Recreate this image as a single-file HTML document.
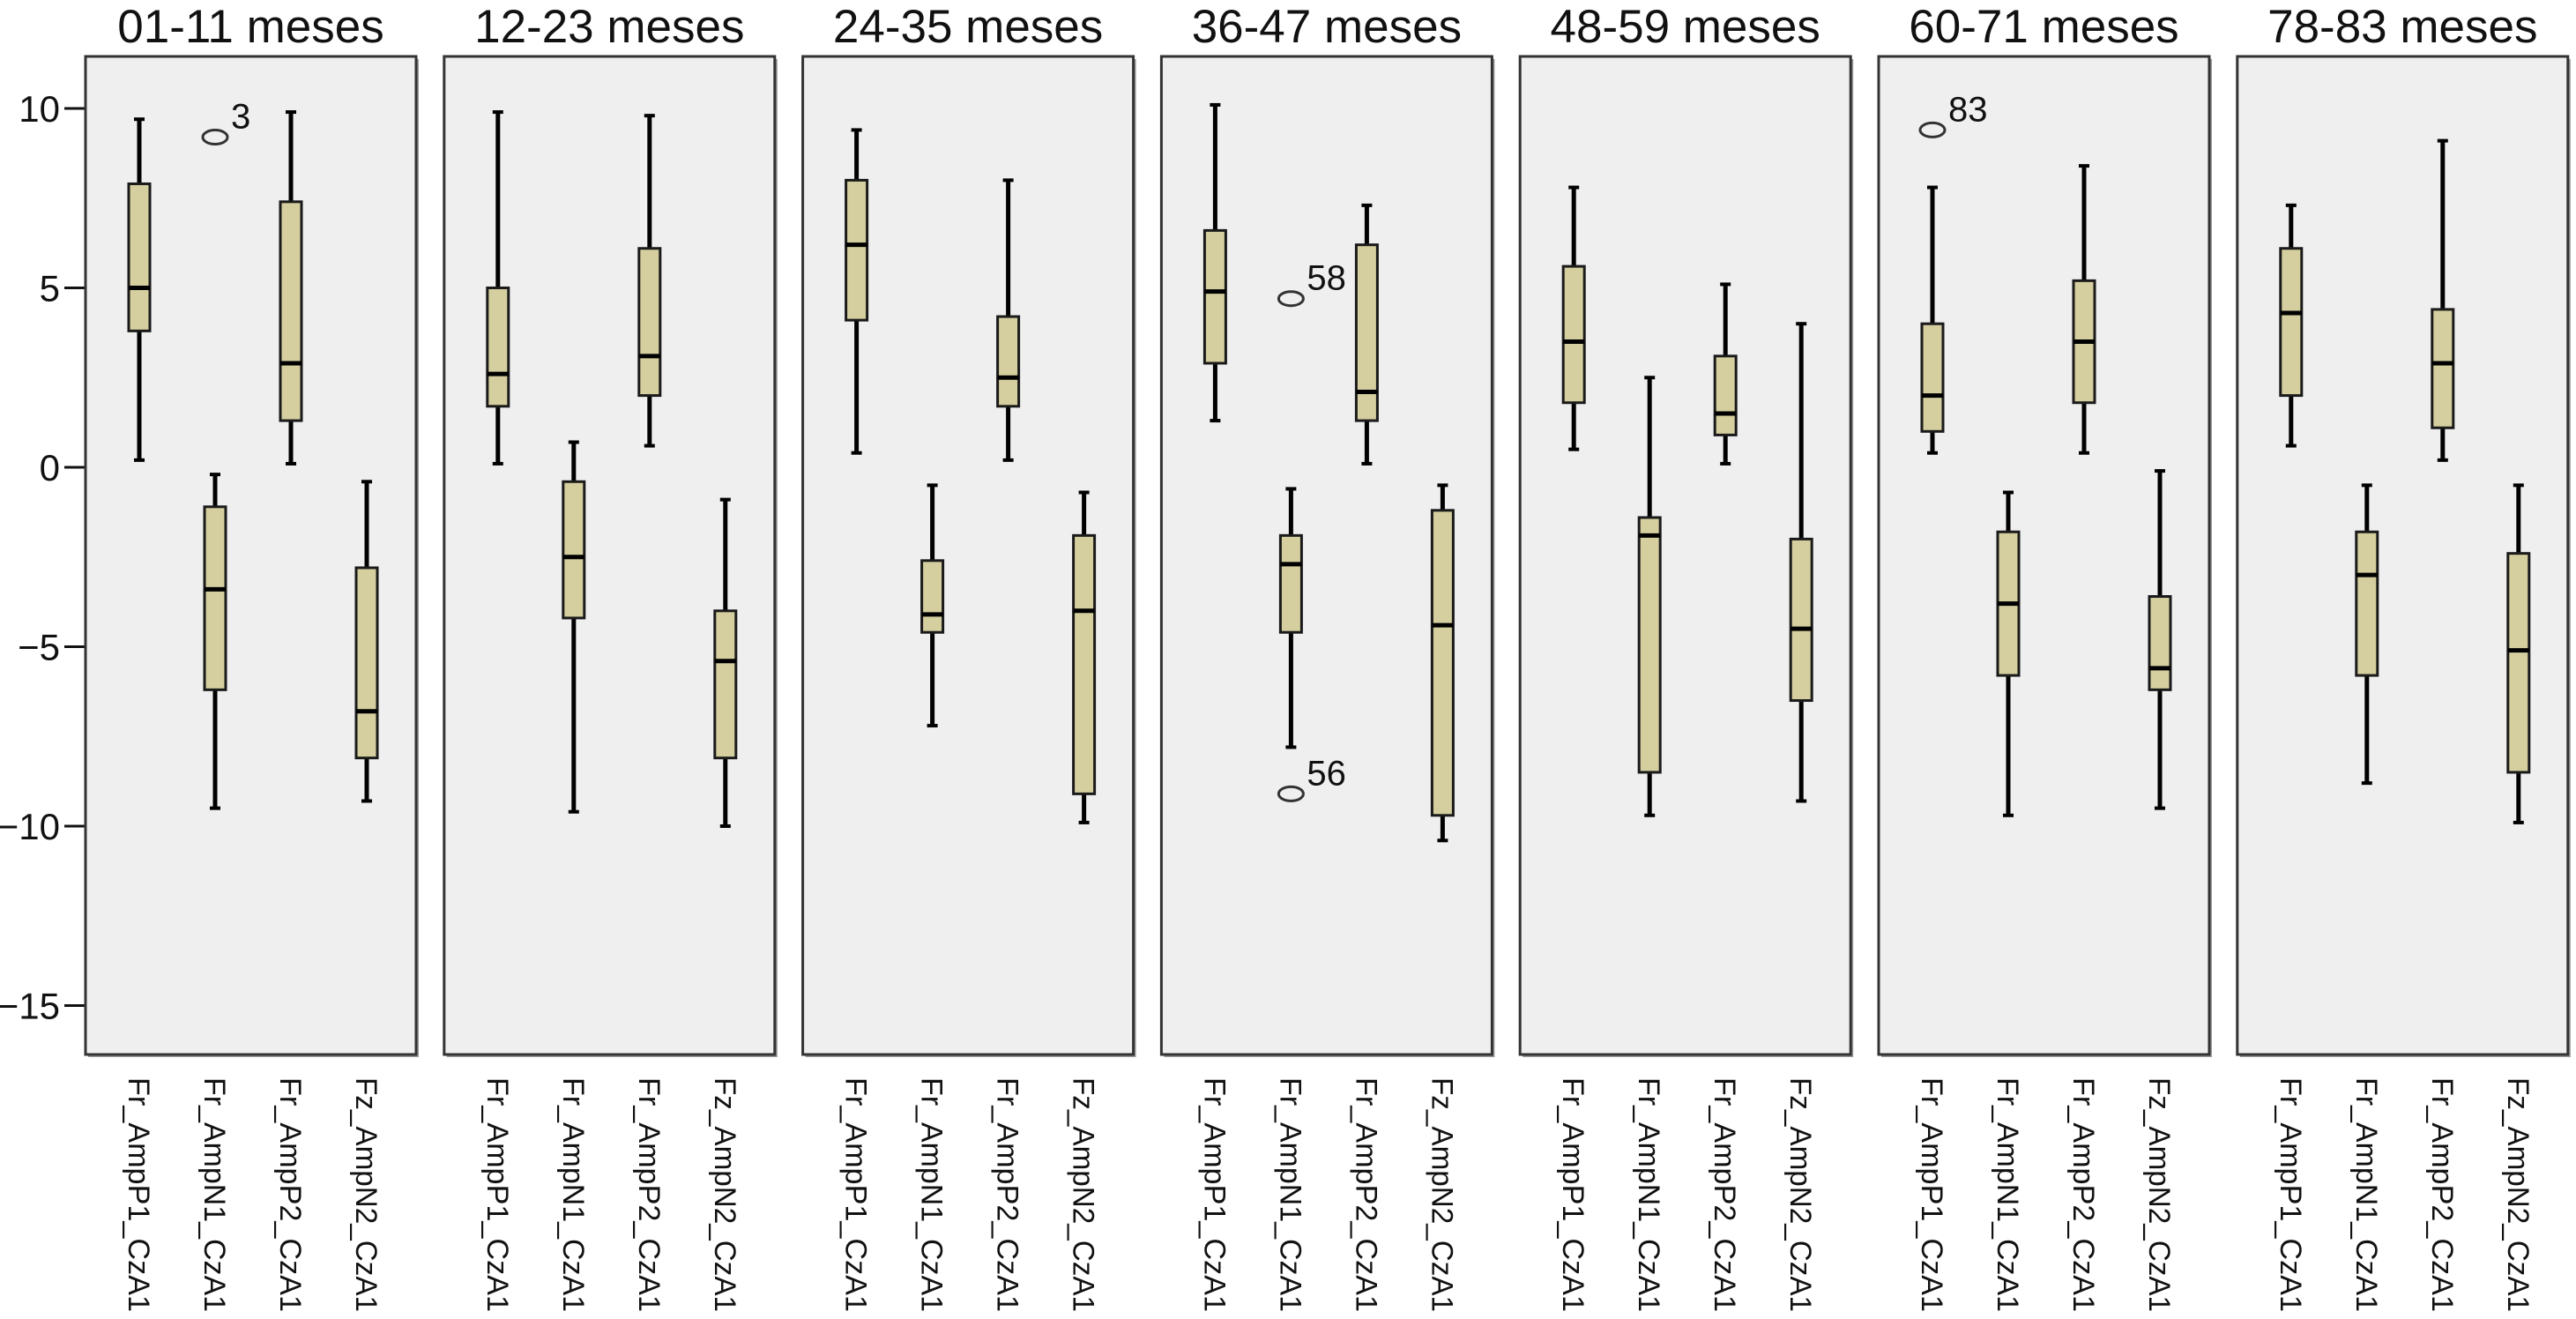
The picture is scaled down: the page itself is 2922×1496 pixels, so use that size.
<!DOCTYPE html>
<html><head><meta charset="utf-8"><style>
html,body{margin:0;padding:0;background:#fff;}
svg{display:block;font-family:"Liberation Sans",sans-serif;}
</style></head><body>
<svg id="chart" width="2922" height="1496" viewBox="0 0 2922 1496" xmlns="http://www.w3.org/2000/svg"></svg>
<script>
const panelTitles = ["01-11 meses","12-23 meses","24-35 meses","36-47 meses","48-59 meses","60-71 meses","78-83 meses"];
const categories = ["Fr_AmpP1_CzA1","Fr_AmpN1_CzA1","Fr_AmpP2_CzA1","Fz_AmpN2_CzA1"];
const yTicks = [10,5,0,-5,-10,-15];
// [min,q1,median,q3,max] per panel per category
const p01 = [[0.2,3.8,5.0,7.9,9.7],[-9.5,-6.2,-3.4,-1.1,-0.2],[0.1,1.3,2.9,7.4,9.9],[-9.3,-8.1,-6.8,-2.8,-0.4]];
const p12 = [[0.1,1.7,2.6,5.0,9.9],[-9.6,-4.2,-2.5,-0.4,0.7],[0.6,2.0,3.1,6.1,9.8],[-10.0,-8.1,-5.4,-4.0,-0.9]];
const p24 = [[0.4,4.1,6.2,8.0,9.4],[-7.2,-4.6,-4.1,-2.6,-0.5],[0.2,1.7,2.5,4.2,8.0],[-9.9,-9.1,-4.0,-1.9,-0.7]];
const p36 = [[1.3,2.9,4.9,6.6,10.1],[-7.8,-4.6,-2.7,-1.9,-0.6],[0.1,1.3,2.1,6.2,7.3],[-10.4,-9.7,-4.4,-1.2,-0.5]];
const p48 = [[0.5,1.8,3.5,5.6,7.8],[-9.7,-8.5,-1.9,-1.4,2.5],[0.1,0.9,1.5,3.1,5.1],[-9.3,-6.5,-4.5,-2.0,4.0]];
const p60 = [[0.4,1.0,2.0,4.0,7.8],[-9.7,-5.8,-3.8,-1.8,-0.7],[0.4,1.8,3.5,5.2,8.4],[-9.5,-6.2,-5.6,-3.6,-0.1]];
const p78 = [[0.6,2.0,4.3,6.1,7.3],[-8.8,-5.8,-3.0,-1.8,-0.5],[0.2,1.1,2.9,4.4,9.1],[-9.9,-8.5,-5.1,-2.4,-0.5]];
const panelData = [p01,p12,p24,p36,p48,p60,p78];
const outlierPanel = [0,3,3,5];
const outlierCat = [1,1,1,0];
const outlierVal = [9.2,4.7,-9.1,9.4];
const outlierLab = ["3","58","56","83"];

const NS="http://www.w3.org/2000/svg";
const svg=document.getElementById('chart');
const plotTop=64, plotBot=1196;
function y(v){return 530 - v*40.7;}
function px(i){return 97 + i*406.8;}
const pw=375;
function bx(p,c){return px(p)+61+c*86;}
function el(tag,attrs,parent){const e=document.createElementNS(NS,tag);for(const k in attrs)e.setAttribute(k,attrs[k]);(parent||svg).appendChild(e);return e;}

yTicks.forEach((t)=>{
  const tk=el('line',{x1:73,x2:97,y1:y(t),y2:y(t),stroke:'#111','stroke-width':3});
  
  
  const tx=el('text',{x:68,y:y(t)+15,'text-anchor':'end','font-size':42,fill:'#111'});
  tx.textContent = t<0 ? '\u2212'+Math.abs(t) : String(t);
  
  
});

panelData.forEach((pd,p)=>{
  const g=el('g',{});
  
  
  el('rect',{x:px(p)+3,y:plotTop+3,width:pw,height:plotBot-plotTop,fill:'#9a9a9a'},g);
  const bg=el('rect',{x:px(p),y:plotTop,width:pw,height:plotBot-plotTop,fill:'#efefef',stroke:'#333','stroke-width':3},g);
  
  
  const tt=el('text',{x:px(p)+pw/2,y:48,'text-anchor':'middle','font-size':53,fill:'#111'},g);
  tt.textContent=panelTitles[p];
  
  
  pd.forEach((s,c)=>{
    const cx=bx(p,c), w=24;
    const bg2=el('g',{},g);
    
    
    el('line',{x1:cx,x2:cx,y1:y(s[4]),y2:y(s[0]),stroke:'#000','stroke-width':5},bg2);
    el('line',{x1:cx-6,x2:cx+6,y1:y(s[4]),y2:y(s[4]),stroke:'#000','stroke-width':4},bg2);
    el('line',{x1:cx-6,x2:cx+6,y1:y(s[0]),y2:y(s[0]),stroke:'#000','stroke-width':4},bg2);
    el('rect',{x:cx-w/2,y:y(s[3]),width:w,height:y(s[1])-y(s[3]),fill:'#d5cf9f',stroke:'#1a1a1a','stroke-width':3},bg2);
    el('line',{x1:cx-w/2,x2:cx+w/2,y1:y(s[2]),y2:y(s[2]),stroke:'#000','stroke-width':5},bg2);
    const lb=el('text',{transform:`translate(${cx-12},1222) rotate(90)`,'font-size':34,fill:'#111','textLength':266,'lengthAdjust':'spacingAndGlyphs'},g);
    lb.textContent=categories[c];
    
    
  });
});
outlierVal.forEach((v,i)=>{
  const cx=bx(outlierPanel[i],outlierCat[i]);
  const o=el('ellipse',{cx:cx,cy:y(v),rx:14,ry:8,fill:'none',stroke:'#333','stroke-width':3});
  
  
  const t=el('text',{x:cx+18,y:y(v)-10,'font-size':40,fill:'#111'});
  t.textContent=outlierLab[i];
  
  
});
</script>
</body></html>
